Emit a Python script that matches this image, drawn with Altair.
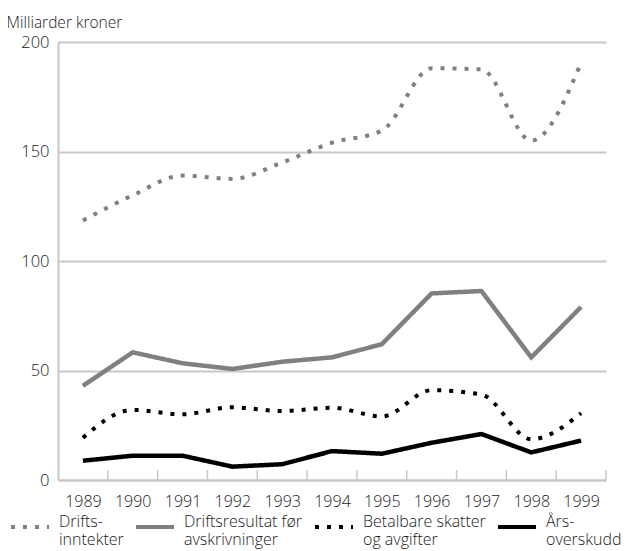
import altair as alt
import pandas as pd

years = [1989, 1990, 1991, 1992, 1993, 1994, 1995, 1996, 1997, 1998, 1999]
inntekter = [118.5, 130, 139, 137.5, 145, 154, 159.5, 188, 187.5, 155, 190.5]
resultat = [43, 58.3, 53.3, 50.7, 54, 56, 62, 85.2, 86.3, 56, 79]
skatter = [19.3, 32, 30, 33.2, 31.5, 33, 29, 41, 39, 18.6, 30.5]
overskudd = [8.8, 11.1, 11.1, 6.1, 7.2, 13.2, 12, 17, 21, 12.6, 18]

series = ["Drifts-|inntekter", "Driftsresultat før|avskrivninger",
          "Betalbare skatter|og avgifter", "Års-|overskudd"]
colors = ["#808080", "#808080", "#000000", "#000000"]
dashes = [[4, 8], [1, 0], [4, 8], [1, 0]]
smooth = [True, False, True, False]

rows = []
for name, vals, sm in zip(series, [inntekter, resultat, skatter, overskudd], smooth):
    for y, v in zip(years, vals):
        rows.append({"year": y, "value": v, "series": name, "smooth": sm})
df = pd.DataFrame(rows)
ticks_df = pd.DataFrame({"year": years})

FONT = "Open Sans"
TXT = "#1a1a1a"
GRID = "#c8c8c8"
WEIGHT = 300

x_scale = alt.Scale(domain=[years[0] - 0.5, years[-1] + 0.5], nice=False, zero=False)
x_enc = alt.X("year:Q", scale=x_scale,
              axis=alt.Axis(title=None, values=years, format="d", labelAngle=0,
                            ticks=False, grid=False, labelFlush=False,
                            domainColor=GRID, domainWidth=2, labelPadding=13,
                            labelFontSize=16, labelColor=TXT, labelFont=FONT,
                            labelFontWeight=WEIGHT))
y_enc = alt.Y("value:Q", scale=alt.Scale(domain=[0, 200], nice=False),
              axis=alt.Axis(values=[0, 50, 100, 150, 200], grid=True, gridColor=GRID,
                            gridWidth=2, domainColor=GRID, domainWidth=2, ticks=False,
                            labelPadding=9, labelFontSize=16.5, labelColor=TXT, labelFont=FONT,
                            labelFontWeight=WEIGHT,
                            title="Milliarder kroner", titleAngle=0, titleAlign="left",
                            titleBaseline="alphabetic", titleX=-52, titleY=-15,
                            titleFontSize=15.5, titleFontWeight=WEIGHT, titleColor=TXT,
                            titleFont=FONT))

color_enc = alt.Color("series:N", scale=alt.Scale(domain=series, range=colors),
                      legend=alt.Legend(title=None, orient="none", legendX=-49, legendY=464,
                                        direction="horizontal", columns=4,
                                        symbolType="stroke", symbolSize=1444,
                                        symbolStrokeWidth=4, labelFontSize=16,
                                        labelFont=FONT, labelColor=TXT, labelOffset=8,
                                        labelFontWeight=WEIGHT,
                                        columnPadding=4, labelLimit=300,
                                        labelExpr="split(datum.label, '|')",
                                        labelBaseline="alphabetic"))
dash_enc = alt.StrokeDash("series:N", scale=alt.Scale(domain=series, range=dashes),
                          legend=None)

base = alt.Chart(df).encode(x=x_enc, y=y_enc, color=color_enc, strokeDash=dash_enc)
smooth_lines = base.transform_filter("datum.smooth").mark_line(
    interpolate="monotone", strokeWidth=4, strokeCap="butt")
straight_lines = base.transform_filter("!datum.smooth").mark_line(
    strokeWidth=4.5, strokeCap="butt", strokeJoin="miter")

tick_rules = alt.Chart(ticks_df).transform_calculate(
    edge="datum.year + 0.5"
).mark_rule(color=GRID, strokeWidth=1.5).encode(
    x=alt.X("edge:Q", scale=x_scale),
    y=alt.value(428), y2=alt.value(438))

chart = alt.layer(tick_rules, smooth_lines, straight_lines).properties(
    width=548, height=438,
    autosize=alt.AutoSizeParams(type="none"),
    padding={"left": 50, "top": 34, "right": 17, "bottom": 71},
).configure_view(stroke=None)

chart.save("out.html", embed_options={"renderer": "svg", "actions": False})
